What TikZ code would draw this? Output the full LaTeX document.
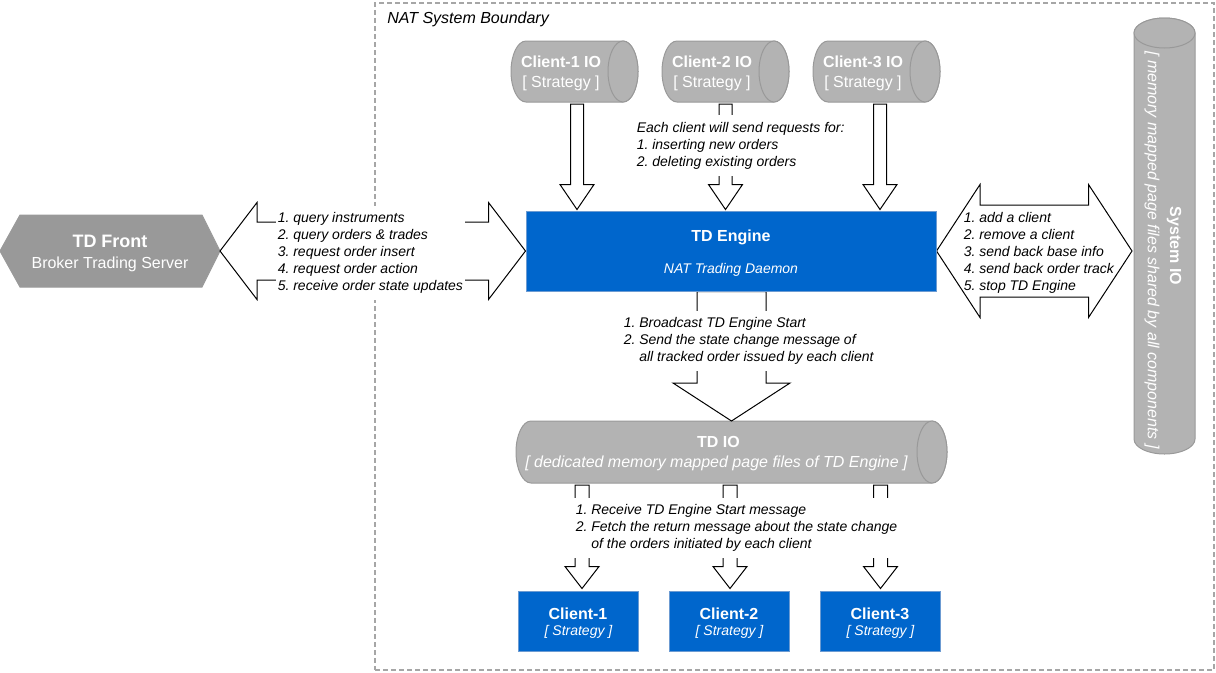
\documentclass[tikz,border=0pt]{standalone}
\usepackage{fontspec}
\setmainfont{Liberation Sans}
\usetikzlibrary{calc}
\frenchspacing
\pgfdeclarelayer{bg}
\pgfsetlayers{bg,main}
\definecolor{tdblue}{HTML}{0066CC}
\definecolor{tdblueline}{HTML}{6C9BD2}
\definecolor{cylfill}{HTML}{B3B3B3}
\definecolor{cylline}{HTML}{999999}
\definecolor{hexfill}{HTML}{999999}
\definecolor{boundline}{HTML}{A6A6A6}
\newcommand\fsizeA{\fontsize{13.5}{16}\selectfont}
\newcommand\fsizeB{\fontsize{12}{14.4}\selectfont}
\newcommand\fsizeC{\fontsize{10.5}{12.75}\selectfont}
\tikzset{
  boundframe/.style={draw=boundline, line width=1.1pt, dash pattern=on 3.4pt off 2.6pt, inner sep=0pt},
  cylshape/.style={fill=cylfill, draw=cylline, line width=0.75pt},
  hexshape/.style={fill=hexfill, draw=hexfill, line width=0.75pt},
  blk/.style={fill=white, draw=black, line width=0.75pt, line join=miter},
  bluebox/.style={fill=tdblue, draw=tdblueline, line width=0.75pt, inner sep=0pt},
  holder/.style={inner sep=0pt, outer sep=0pt},
  wt/.style={text=white, inner sep=0pt, anchor=base},
  lbl/.style={font=\fsizeC\itshape\frenchspacing, align=left, inner xsep=1.5pt, inner ysep=5pt, anchor=west},
}
% horizontal cylinder drawn on a holder node: #1 name, #2 y radius
\newcommand\hcyl[2]{%
  \path[cylshape] ($(#1.north west)+(15,0)$) -- ($(#1.north east)+(-15,0)$)
    arc[start angle=90,end angle=-90,x radius=11.25pt,y radius=#2]
    -- ($(#1.south west)+(15,0)$)
    arc[start angle=270,end angle=90,x radius=11.25pt,y radius=#2] -- cycle;
  \draw[cylshape] ($(#1.east)+(-15,0)$) ellipse[x radius=11.25pt,y radius=#2];}
% down block arrow: #1 from, #2 to, #3 x, #4 top gap, #5 shaft half, #6 head half, #7 head length, #8 tip gap
\newcommand\downblk[8]{%
  \coordinate (tmpX) at (#3,0);
  \draw[blk] ($(tmpX |- #1.south)+(-#5,#4)$) -- ($(tmpX |- #2.north)+(-#5,-#7-#8)$)
    -- ($(tmpX |- #2.north)+(-#6,-#7-#8)$) -- ($(tmpX |- #2.north)+(0,-#8)$)
    -- ($(tmpX |- #2.north)+(#6,-#7-#8)$) -- ($(tmpX |- #2.north)+(#5,-#7-#8)$)
    -- ($(tmpX |- #1.south)+(#5,#4)$) -- cycle;}
% double block arrow between two tip coordinates
\newcommand\dblblk[5]{%
  \draw[blk] (#1) -- ($(#1)+(#3,-#4)$) -- ($(#1)+(#3,-#5)$) -- ($(#2)+(-#3,-#5)$)
    -- ($(#2)+(-#3,-#4)$) -- (#2) -- ($(#2)+(-#3,#4)$) -- ($(#2)+(-#3,#5)$)
    -- ($(#1)+(#3,#5)$) -- ($(#1)+(#3,#4)$) -- cycle;}
\begin{document}
\begin{tikzpicture}[x=0.75pt,y=-0.75pt]
\useasboundingbox (0,0) rectangle (1216,672);

% ---------- holder / box nodes ----------
\node[holder, minimum width=165pt, minimum height=54pt] (tdfront) at (110,251) {};
\node[holder, minimum width=95.25pt, minimum height=45.75pt] (c1io) at (574.5,71.5) {};
\node[holder, minimum width=95.25pt, minimum height=45.75pt] (c2io) at (725.5,71.5) {};
\node[holder, minimum width=95.25pt, minimum height=45.75pt] (c3io) at (876.5,71.5) {};
\node[holder, minimum width=323.25pt, minimum height=46.5pt] (tdio) at (731.5,452) {};
\node[holder, minimum width=45.75pt, minimum height=327pt] (sysio) at (1164.5,236) {};
\node[bluebox, minimum width=307.5pt, minimum height=60pt] (engine) at (731,251) {};
\node[bluebox, minimum width=90pt, minimum height=45pt] (cl1) at (578,621) {};
\node[bluebox, minimum width=90pt, minimum height=45pt] (cl2) at (729,621) {};
\node[bluebox, minimum width=90pt, minimum height=45pt] (cl3) at (880,621) {};

% ---------- texts ----------
\node[anchor=base west, inner sep=0pt, font=\fsizeB\itshape] (boundlbl) at (387,23) {NAT System Boundary};

\node[wt, font=\fsizeA\bfseries] (tdfrontA) at (110,247) {TD Front};
\node[wt, font=\fsizeB] (tdfrontB) at (110,268) {Broker Trading Server};

\node[wt, font=\fsizeB\bfseries] (c1ioA) at (561,67) {Client-1 IO};
\node[wt, font=\fsizeB] (c1ioB) at (561,87.5) {[ Strategy ]};
\node[wt, font=\fsizeB\bfseries] (c2ioA) at (712,67) {Client-2 IO};
\node[wt, font=\fsizeB] (c2ioB) at (712,87.5) {[ Strategy ]};
\node[wt, font=\fsizeB\bfseries] (c3ioA) at (863,67) {Client-3 IO};
\node[wt, font=\fsizeB] (c3ioB) at (863,87.5) {[ Strategy ]};

\node[wt, font=\fsizeB\bfseries] (engineA) at (731,241.5) {TD Engine};
\node[wt, font=\fsizeC\itshape] (engineB) at (731,273) {NAT Trading Daemon};

\node[wt, font=\fsizeB\bfseries] (tdioA) at (718.5,447) {TD IO};
\node[wt, font=\fsizeB\itshape] (tdioB) at (716.5,467.5) {[ dedicated memory mapped page files of TD Engine ]};

\node[wt, font=\fsizeB\bfseries] (cl1A) at (578,619) {Client-1};
\node[wt, font=\fsizeC\itshape] (cl1B) at (578.5,635.5) {[ Strategy ]};
\node[wt, font=\fsizeB\bfseries] (cl2A) at (729,619) {Client-2};
\node[wt, font=\fsizeC\itshape] (cl2B) at (729.5,635.5) {[ Strategy ]};
\node[wt, font=\fsizeB\bfseries] (cl3A) at (880,619) {Client-3};
\node[wt, font=\fsizeC\itshape] (cl3B) at (880.5,635.5) {[ Strategy ]};

\node[text=white, inner sep=0pt, rotate=-90, font=\fsizeB\bfseries] (sysioA) at (1174,246) {System IO};
\node[text=white, inner sep=0pt, rotate=-90, font=\fsizeB\itshape] (sysioB) at (1152,250) {[ memory mapped page files shared by all components ]};

% ---------- connector labels ----------
\node[lbl, fill=white] (leftlbl) at (275.5,253) {1. query instruments\\2. query orders \& trades\\3. request order insert\\4. request order action\\5. receive order state updates};
\node[lbl, fill=white] (toplbl) at (634.5,145.5) {Each client will send requests for:\\1. inserting new orders\\2. deleting existing orders};
\node[lbl, fill=white] (midlbl) at (621.5,341) {1. Broadcast TD Engine Start\\2. Send the state change message of\\\phantom{2.} all tracked order issued by each client};
\node[lbl, fill=white] (botlbl) at (573.5,528) {1. Receive TD Engine Start message\\2. Fetch the return message about the state change\\\phantom{2.} of the orders initiated by each client};
\node[lbl] (rightlbl) at (961.5,253) {1. add a client\\2. remove a client\\3. send back base info\\4. send back order track\\5. stop TD Engine};

% ---------- background shapes ----------
\begin{pgfonlayer}{bg}
\node[boundframe, minimum width=629.25pt, minimum height=500.25pt] (boundary) at (794.5,336.5) {};

\path[hexshape] (tdfront.west) -- ($(tdfront.north west)+(20,0)$) -- ($(tdfront.north east)+(-18,0)$)
  -- (tdfront.east) -- ($(tdfront.south east)+(-18,0)$) -- ($(tdfront.south west)+(20,0)$) -- cycle;

\hcyl{c1io}{22.875pt}
\hcyl{c2io}{22.875pt}
\hcyl{c3io}{22.875pt}
\hcyl{tdio}{23.25pt}

\path[cylshape] ($(sysio.north west)+(0,15)$) -- ($(sysio.south west)+(0,-15)$)
  arc[start angle=180,end angle=360,x radius=22.875pt,y radius=11.25pt]
  -- ($(sysio.north east)+(0,15)$)
  arc[start angle=0,end angle=180,x radius=22.875pt,y radius=11.25pt] -- cycle;
\draw[cylshape] ($(sysio.north)+(0,15)$) ellipse[x radius=22.875pt,y radius=11.25pt];

% block arrows
\downblk{c1io}{engine}{577}{2}{6.5}{17}{25}{1}
\downblk{c2io}{engine}{725.5}{2}{6.5}{17}{25}{1}
\downblk{c3io}{engine}{880}{2}{6.5}{17}{25}{1}
\downblk{engine}{tdio}{731.5}{0}{34.5}{58.5}{38}{0}
\downblk{tdio}{cl1}{582}{2}{7}{17}{22}{2}
\downblk{tdio}{cl2}{730}{2}{7}{17}{22}{2}
\downblk{tdio}{cl3}{880.5}{2}{7}{17}{22}{2}

\coordinate (la) at (tdfront.east);
\coordinate (lb) at (engine.west);
\dblblk{la}{lb}{37}{48.5}{29}
\coordinate (ra) at (engine.east);
\coordinate (rb) at ($(sysio.west |- engine.east)+(-2,0)$);
\dblblk{ra}{rb}{43.5}{66.5}{46}
\end{pgfonlayer}
\end{tikzpicture}
\end{document}
